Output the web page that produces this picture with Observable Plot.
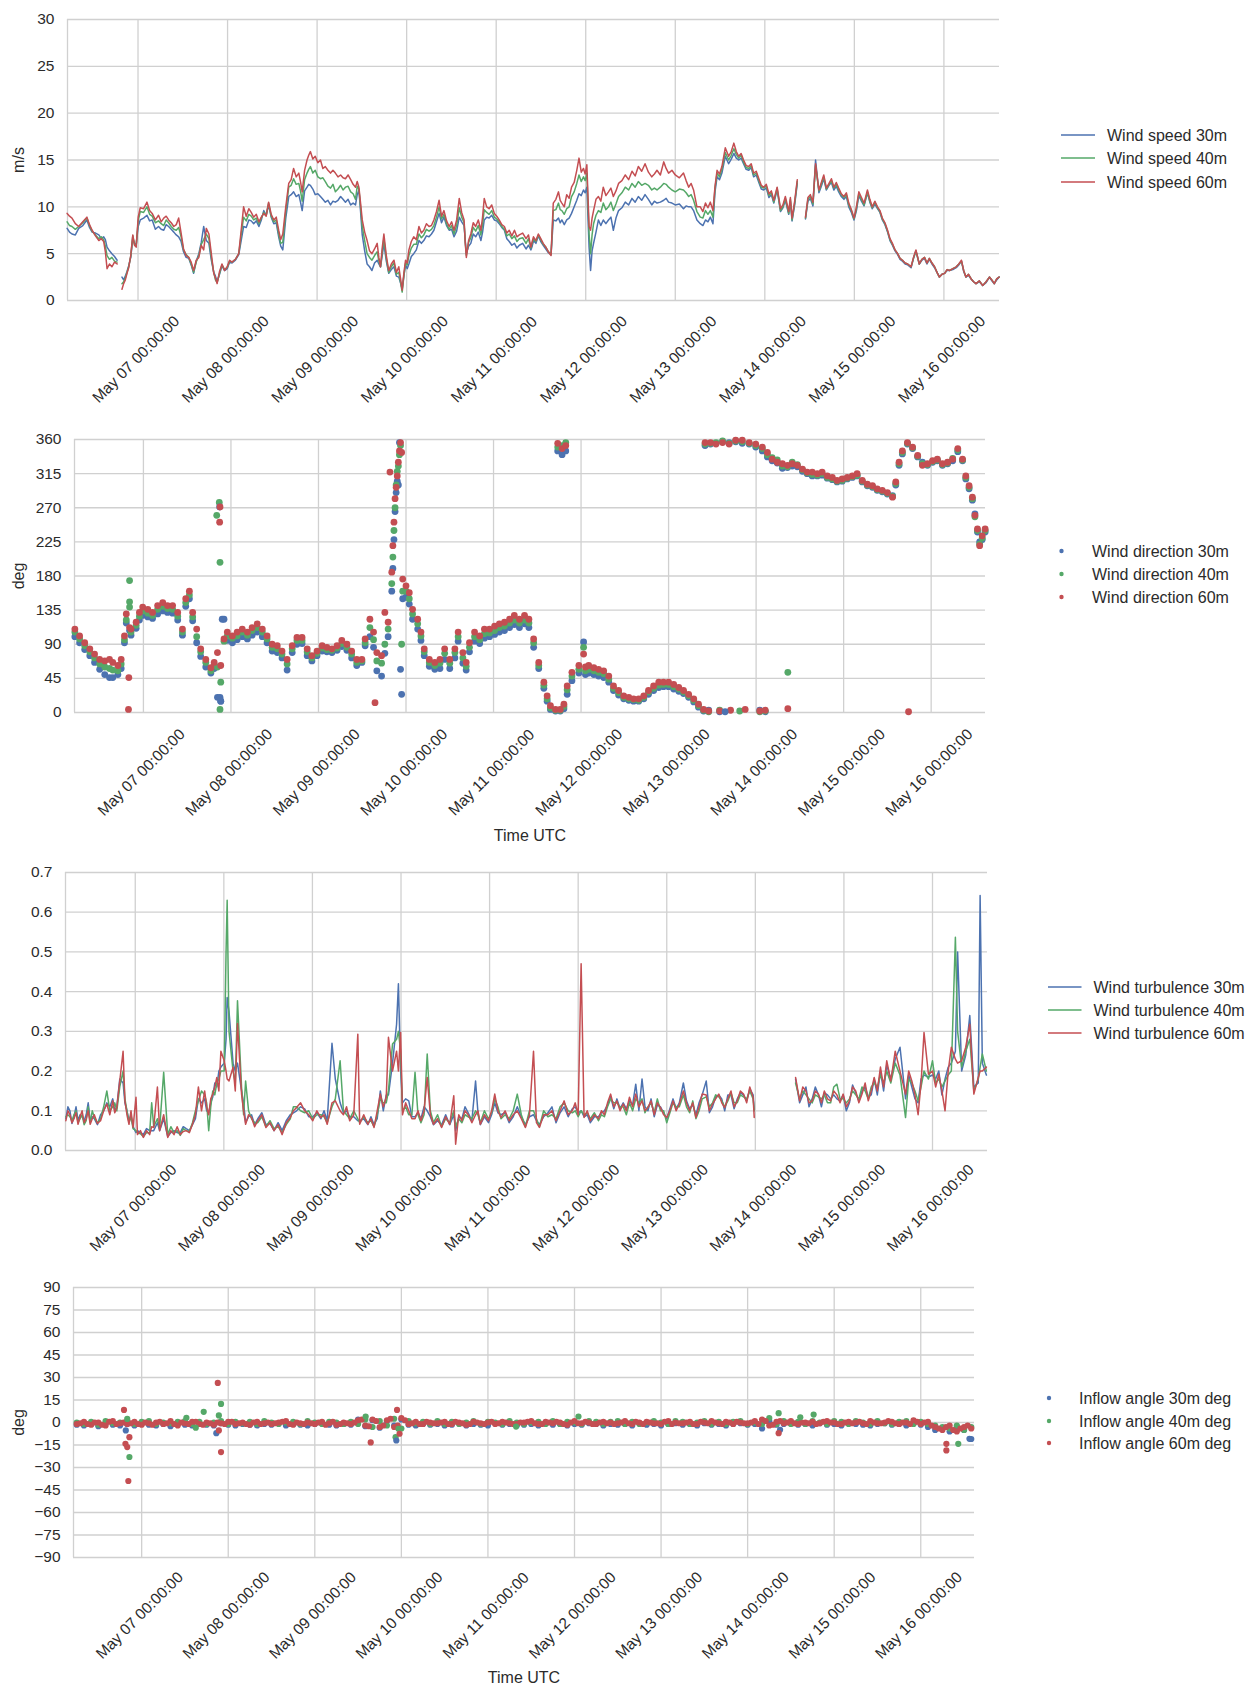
<!DOCTYPE html>
<html><head><meta charset="utf-8">
<script src="https://cdn.jsdelivr.net/npm/d3@7"></script>
<script src="https://cdn.jsdelivr.net/npm/@observablehq/plot@0.6"></script>
<style>
body{margin:0;background:#fff;font-family:"Liberation Sans",Arial,sans-serif;}
#root{position:relative;width:1252px;height:1685px;overflow:hidden;background:#fff}
#root svg.panel{position:absolute;left:0}
</style></head><body><div id="root"></div>
<script>
// ---------- shared axis data ----------
const tickHours = [24,48,72,96,120,144,168,192,216,240];
const tickLabels = ["May 07 00:00:00","May 08 00:00:00","May 09 00:00:00","May 10 00:00:00","May 11 00:00:00","May 12 00:00:00","May 13 00:00:00","May 14 00:00:00","May 15 00:00:00","May 16 00:00:00"];
const seriesNames = ["30m","40m","60m"];
const seriesColors = ["#4C72B0","#55A868","#C44E52"];
const speedLegend = ["Wind speed 30m","Wind speed 40m","Wind speed 60m"];
const dirLegend = ["Wind direction 30m","Wind direction 40m","Wind direction 60m"];
const turbLegend = ["Wind turbulence 30m","Wind turbulence 40m","Wind turbulence 60m"];
const inflowLegend = ["Inflow angle 30m deg","Inflow angle 40m deg","Inflow angle 60m deg"];

// ---------- panel 1: wind speed (m/s), hours since May 06 00:00 UTC ----------
const speedHours = [5,5.65,6.3,7.2,8.1,9.2,10.3,11,11.7,12.6,
13.5,14.15,14.8,15.25,15.7,16.35,17,17.7,18.4,19.2,
19.7,20.15,20.6,21.05,21.5,22.05,22.6,23.05,23.5,24.05,
24.6,25.5,26.4,27.1,27.8,28.65,29.5,30.2,30.9,31.55,
32.2,32.9,33.6,34.25,34.9,35.55,36.2,36.9,37.6,38.25,
38.9,39.6,40.3,40.95,41.6,42.3,43,43.65,44.3,44.75,
45.2,45.85,46.5,47.2,47.9,48.55,49.2,50.1,51,51.65,
52.3,53,53.7,54.35,55,55.7,56.4,57.05,57.7,58.35,
59,59.7,60.4,61.05,61.7,62.25,62.8,63.6,64.4,65.05,
65.7,66.4,67.1,67.55,68,68.65,69.3,69.75,70.2,70.85,
71.5,72.2,72.9,73.55,74.2,74.9,75.6,76.25,76.9,77.6,
78.3,78.95,79.6,80.3,81,81.65,82.3,82.75,83.2,83.65,
84.1,84.75,85.4,86.05,86.7,87.4,88.1,88.55,89,89.45,
89.9,90.55,91.2,91.9,92.6,93.25,93.9,94.35,94.8,95.25,
95.7,96.15,96.6,97.25,97.9,98.6,99.3,99.95,100.6,101.3,
102,102.65,103.3,104,104.7,105.35,106,106.7,107.4,108.05,
108.7,109.4,110.1,110.75,111.4,111.7,112,112.6,113.2,113.85,
114.5,115.2,115.9,116.35,116.8,117.45,118.1,118.8,119.5,120.15,
120.8,121.5,122.2,122.85,123.5,124.2,124.9,125.55,126.2,127.1,
128,128.65,129.3,129.65,130,130.65,131.3,131.95,132.6,133.3,
134,134.7,135.3,136,136.7,137.15,137.6,138.25,138.9,139.55,
140.2,140.9,141.6,142.2,142.8,143.4,143.85,144.3,144.9,145.3,
145.7,146.1,146.75,147.4,148.05,148.7,149.4,150.1,150.75,151.4,
152.1,152.8,153.7,154.6,155.5,156.4,157.25,158.1,159,159.9,
160.8,161.7,162.4,163.1,164,164.9,165.55,166.2,167.1,168,
169.1,170.2,170.9,171.6,172.25,172.9,173.8,174.7,175.4,176.1,
176.75,177.4,178.1,178.65,179.2,179.85,180.5,181.4,182.3,183,
183.7,184.35,185,185.65,186.3,187,187.7,188.35,189,189.7,
190.4,191.05,191.7,192.4,193.1,193.75,194.4,195.3,196.2,196.85,
197.5,198.4,198.85,199.3,200,200.7,201.5,202.9,203.55,204.2,
204.9,205.6,206.5,207.15,207.8,208.5,209.2,209.85,210.5,211.15,
211.8,212.5,213.2,213.85,214.5,215.2,215.9,216.55,217.2,217.9,
218.6,219.5,220.15,220.8,221.5,222.2,222.85,223.5,224.2,224.9,
225.55,226.2,226.9,227.6,228.25,228.9,229.6,230.3,231.2,231.85,
232.5,233.4,234.1,234.8,235.45,236.1,236.8,237.5,238.15,238.8,
239.5,240.2,240.85,241.5,242.4,243.3,244,244.7,245.3,245.9,
246.6,247.3,247.95,248.6,249.5,250.4,251.3,252.2,252.85,253.5,
254.15,254.8];
const speed60 = [9.3,9.0,8.8,8.2,7.9,8.4,8.9,8.1,7.5,6.9,
6.4,6.6,6.3,5.2,3.4,3.9,3.6,4.1,3.9,null,
1.2,1.8,2.2,2.9,3.5,4.8,7.0,5.9,5.7,8.9,
9.9,9.8,10.5,9.6,9.3,8.6,9.1,8.4,8.8,9.0,
8.6,8.3,7.9,8.1,8.8,7.2,5.5,4.8,4.6,4.1,
3.2,4.3,4.6,5.9,5.4,7.7,7.1,5.0,2.9,2.4,
1.8,3.1,3.9,3.2,3.6,4.3,4.1,4.4,5.0,7.5,
10.0,9.0,9.8,9.4,8.9,9.2,8.4,8.9,9.3,9.0,
10.5,9.2,8.6,8.9,7.5,6.5,7.1,10.0,12.5,12.9,
14.1,13.2,13.6,12.7,11.6,13.9,15.0,15.5,15.9,15.1,
15.4,14.7,15.0,14.1,14.3,13.9,13.6,13.9,13.6,13.2,
13.4,13.1,13.0,13.4,12.9,12.4,12.1,12.7,12.1,10.4,
8.6,7.3,6.4,5.3,5.0,5.5,6.1,4.6,3.6,5.6,
7.1,4.8,3.2,3.9,4.3,3.0,3.6,2.4,1.1,2.9,
4.3,4.0,5.4,6.3,6.8,6.5,7.9,7.2,7.5,8.2,
7.9,8.0,8.6,9.5,10.7,9.0,9.6,8.5,7.9,8.4,
7.5,8.6,10.9,9.4,8.6,6.2,4.6,6.4,7.1,8.3,
7.9,8.6,7.5,8.9,10.9,10.0,9.8,10.2,9.3,9.0,
8.6,8.1,7.9,7.2,7.5,6.9,7.5,6.8,7.0,7.2,
6.6,7.0,5.7,6.3,6.8,6.4,7.1,6.6,6.1,5.7,
5.2,4.8,10.4,10.8,11.6,10.7,10.4,10.0,11.3,10.9,
12.1,12.6,13.9,15.2,13.7,14.1,13.5,14.5,7.9,7.5,
8.8,9.6,10.8,11.1,10.6,12.1,11.2,11.6,12.0,11.1,
11.7,12.5,12.8,13.4,12.9,13.8,13.3,14.3,13.8,14.6,
13.7,13.2,13.5,13.9,13.4,14.8,14.1,13.6,13.9,13.4,
13.1,13.6,12.8,12.1,12.5,11.8,10.0,10.0,9.5,10.4,
9.9,10.5,9.6,12.2,13.9,13.5,14.3,16.3,15.4,15.9,
16.8,15.9,15.4,15.7,15.0,14.4,14.3,14.6,13.6,13.8,
13.0,12.3,12.1,12.4,11.4,11.7,10.7,12.1,9.8,10.2,
11.1,9.5,11.0,8.8,10.6,12.9,null,8.9,11.0,11.3,
10.5,14.6,11.8,12.6,13.4,12.0,12.5,13.0,12.1,12.6,
12.0,11.4,11.1,11.5,10.4,9.7,8.8,10.0,11.6,11.0,
10.4,11.8,10.8,10.0,10.6,10.0,9.6,8.8,8.3,7.5,
6.6,6.1,5.4,5.0,4.5,4.3,4.0,3.9,3.6,4.6,
5.4,3.9,4.4,4.6,4.0,4.5,4.0,3.6,3.0,2.5,
2.8,2.9,3.3,3.2,3.4,3.6,3.9,4.3,3.2,2.5,
2.8,2.3,2.0,1.8,2.1,1.6,2.0,2.5,2.2,1.8,
2.3,2.5];
const speed40 = [8.4,8.0,7.9,7.6,7.9,8.3,8.8,8.0,7.4,7.0,
6.6,6.8,6.5,5.8,4.8,4.4,4.6,4.2,4.1,null,
1.8,2.0,2.4,3.0,3.6,4.7,6.9,6.0,5.8,8.5,
9.5,9.4,10.0,9.2,9.0,8.3,8.5,8.2,8.0,8.6,
8.3,7.9,7.6,7.5,7.8,6.8,5.4,4.9,4.6,3.9,
3.0,4.1,4.8,6.0,6.5,7.1,6.6,4.6,3.0,2.2,
1.9,2.9,3.8,3.3,3.5,4.2,4.1,4.4,5.0,7.0,
8.9,8.5,9.2,9.0,8.6,8.8,8.2,8.8,9.4,9.1,
10.4,9.0,8.4,8.6,7.1,6.1,6.2,9.5,12.1,12.3,
13.0,12.4,12.5,11.7,10.6,12.9,13.6,14.0,14.3,13.6,
13.9,13.2,13.0,13.1,12.7,12.2,12.0,12.4,11.6,11.9,
12.3,11.8,12.1,12.2,11.6,11.4,10.8,12.2,11.9,10.0,
7.9,6.4,5.0,4.6,4.3,4.8,5.2,4.2,3.6,5.2,
6.6,4.5,3.0,3.6,4.0,2.8,3.0,2.0,0.9,2.6,
4.0,3.8,4.8,5.6,6.0,6.0,7.1,6.7,7.0,7.6,
7.4,7.6,8.0,8.9,10.0,8.7,9.2,8.2,7.6,8.0,
7.1,8.0,9.9,8.9,8.3,6.3,4.8,6.2,6.7,7.8,
7.4,8.0,7.0,8.1,9.7,9.4,9.2,9.6,8.9,8.7,
8.4,7.9,7.6,6.9,7.1,6.6,6.9,6.3,6.6,6.7,
6.1,6.6,5.6,6.1,6.6,6.3,7.0,6.5,6.0,5.7,
5.2,4.9,9.6,9.7,10.4,9.7,9.6,9.2,9.8,10.0,
11.1,11.6,12.5,13.4,12.7,13.2,12.8,13.6,7.1,5.0,
7.0,8.2,9.1,9.6,9.4,10.4,9.7,10.0,10.5,9.6,
10.3,11.1,11.5,12.1,11.8,12.5,12.1,12.7,12.3,12.5,
12.3,11.8,12.0,11.8,12.1,12.5,12.4,12.1,11.8,11.6,
11.9,11.8,11.5,11.1,11.3,10.7,9.5,8.9,8.8,9.6,
9.2,9.6,8.9,12.0,13.6,13.2,14.0,15.8,15.0,15.5,
16.2,15.6,15.2,15.5,14.8,14.2,14.1,14.4,13.4,13.6,
12.8,12.1,12.0,12.2,11.2,11.5,10.5,12.0,9.6,10.0,
10.9,9.3,10.8,8.6,10.4,12.7,null,8.8,10.8,11.1,
10.3,14.4,11.7,12.4,13.2,11.9,12.4,12.8,12.0,12.4,
11.8,11.3,11.0,11.3,10.2,9.6,8.7,9.8,11.4,10.8,
10.2,11.6,10.6,9.9,10.5,9.9,9.5,8.7,8.2,7.4,
6.5,6.0,5.4,5.0,4.5,4.3,4.0,3.9,3.6,4.5,
5.3,3.9,4.4,4.6,4.0,4.5,4.0,3.6,3.0,2.5,
2.8,2.9,3.3,3.2,3.4,3.6,3.9,4.2,3.2,2.5,
2.8,2.3,2.0,1.8,2.1,1.6,2.0,2.5,2.2,1.8,
2.3,2.5];
const speed30 = [7.7,7.3,7.1,7.0,7.7,8.0,8.6,7.8,7.3,7.2,
7.0,6.6,6.8,6.5,5.7,5.3,5.0,4.7,4.3,null,
2.5,2.2,2.6,3.1,3.7,4.6,6.6,6.1,5.9,7.9,
8.6,8.8,9.1,8.5,8.6,7.6,7.9,7.6,7.5,8.1,
7.9,7.6,7.3,7.0,6.8,6.3,5.2,4.6,4.5,3.8,
2.9,4.2,5.0,6.2,7.9,6.4,6.1,4.3,3.0,2.6,
2.0,2.8,3.7,3.2,3.4,4.1,4.0,4.3,4.9,6.4,
7.9,7.8,8.6,8.5,8.2,8.5,7.9,8.6,9.6,9.1,
10.2,8.9,8.2,8.3,6.8,5.8,5.4,8.8,11.1,11.3,
11.6,11.1,11.3,10.5,9.6,11.7,12.1,12.4,12.3,11.9,
11.3,11.4,11.1,10.8,10.5,10.7,10.2,10.6,10.5,10.7,
11.1,10.8,10.5,10.8,10.2,10.4,10.2,11.3,11.8,9.5,
7.0,5.3,3.9,3.6,3.2,4.0,4.3,3.9,3.6,4.8,
6.1,4.2,2.9,3.3,3.6,2.6,2.5,1.9,1.2,2.6,
3.8,3.4,3.9,4.7,5.0,5.4,6.4,6.1,6.4,6.9,
6.8,7.1,7.5,8.4,9.3,8.3,8.9,8.0,7.5,7.6,
6.8,7.4,8.9,8.4,8.0,6.4,5.0,5.8,6.1,7.1,
6.8,7.3,6.4,7.3,8.6,8.9,8.8,9.1,8.6,8.5,
8.2,7.8,7.5,6.6,6.3,5.9,6.1,5.6,5.9,6.1,
5.5,5.9,5.4,5.8,6.4,6.1,6.9,6.3,5.9,5.5,
5.1,4.9,8.6,8.5,8.8,8.3,8.6,8.1,8.6,8.8,
9.3,10.0,10.7,11.4,11.2,11.8,11.5,12.1,5.7,3.2,
5.3,6.1,7.3,8.6,8.0,8.6,8.2,8.6,8.9,7.5,
8.8,9.6,9.9,10.5,10.2,10.9,10.5,11.1,10.7,11.3,
10.8,10.2,10.6,10.4,10.5,10.7,10.9,10.5,10.4,10.2,
10.3,9.8,10.1,10.0,10.0,9.6,8.6,8.2,8.0,8.6,
8.4,8.9,8.2,11.6,13.2,12.9,13.6,15.4,14.6,15.1,
15.7,15.2,15.0,15.2,14.6,14.0,13.9,14.2,13.2,13.4,
12.6,11.9,11.8,12.0,11.0,11.3,10.4,11.8,9.5,9.9,
10.7,9.2,10.6,8.5,10.2,12.5,null,8.7,10.6,10.9,
10.1,15.0,11.5,12.2,13.0,11.8,12.3,12.6,11.8,12.2,
11.6,11.1,10.8,11.1,10.0,9.4,8.6,9.6,11.2,10.6,
10.1,11.5,10.5,9.8,10.3,9.8,9.4,8.6,8.1,7.3,
6.4,5.9,5.3,4.9,4.4,4.2,3.9,3.8,3.5,4.5,
5.3,3.9,4.3,4.5,3.9,4.4,3.9,3.5,3.0,2.5,
2.8,2.9,3.2,3.2,3.3,3.5,3.8,4.2,3.1,2.5,
2.7,2.3,2.0,1.8,2.0,1.6,1.9,2.5,2.1,1.8,
2.2,2.5];

// ---------- panel 2: wind direction (deg) ----------
const dirHours = [5.2,6.5,7.9,9.3,10.6,12.0,13.4,14.7,15.6,17.0,
17.9,18.8,19.3,20.2,20.6,22.0,22.9,23.8,25.2,26.5,
27.9,29.3,30.6,32.0,33.4,34.7,35.6,36.6,37.5,38.6,
39.7,41.1,42.5,43.4,44.3,45.2,46.1,47.0,48.4,49.7,
51.1,52.5,53.8,55.2,56.6,57.9,59.3,60.7,62.0,63.4,
64.8,66.1,67.5,68.9,70.2,71.6,73.0,74.3,75.7,77.1,
78.4,79.8,81.1,82.5,83.9,84.8,86.1,87.1,88.0,89.3,
90.2,91.1,92.1,92.4,92.7,93.0,93.3,93.6,93.9,94.2,
94.5,94.8,95.1,96.0,96.9,97.8,99.2,100.1,101.0,102.4,
103.9,105.3,106.6,108.0,109.4,110.3,111.6,112.5,113.4,114.8,
116.2,117.5,118.9,120.3,121.6,123.0,124.4,125.7,127.1,128.5,
129.7,131.0,132.4,133.8,134.7,135.6,137.0,137.6,138.3,138.8,
139.3,139.8,140.2,141.5,143.4,144.7,145.2,146.1,147.5,148.8,
150.2,151.6,152.9,154.3,155.7,157.1,158.4,159.8,161.2,162.5,
163.9,165.3,166.6,168.0,169.4,170.8,172.1,173.5,174.9,176.2,
177.6,178.0,179.0,179.5,181.0,182.0,182.8,184.6,186.4,188.2,
190.1,191.9,193.0,193.7,194.5,195.1,196.4,197.8,199.2,200.6,
201.9,203.3,204.7,206.0,207.4,208.8,210.1,211.5,212.9,214.2,
215.6,217.0,218.4,219.7,221.1,222.5,223.9,225.2,226.6,228.0,
229.4,230.3,231.2,232.1,233.5,234.9,236.3,237.6,239.0,240.4,
241.7,243.1,244.5,245.9,247.3,248.6,249.5,250.4,251.3,252.0,
252.7,253.3,254.0,254.8];
const dir60 = [110,101,92,84,77,70,68,70,66,62,
70,101,130,112,110,119,132,139,136,132,
141,145,141,141,132,110,150,160,132,110,
84,70,59,66,79,62,97,106,101,106,
110,106,112,117,110,101,90,88,81,70,
88,99,99,84,75,81,88,86,84,88,
95,90,81,70,70,97,123,106,79,75,
132,119,185,220,251,282,297,312,330,345,
356,343,176,167,158,136,123,106,84,70,
66,70,84,70,84,106,79,66,92,106,
101,110,110,114,117,119,123,128,123,128,
123,97,66,40,22,9,4,355,4,348,
11,352,35,53,62,77,60,62,59,57,
55,48,35,29,22,20,18,18,22,29,
35,40,40,40,37,33,29,24,18,11,
4,356,2,356,354,2,356,354,359,359,
356,354,2,350,3,343,334,330,328,326,
328,326,321,317,317,315,317,312,310,306,
308,310,312,315,306,301,299,295,293,290,
284,304,330,345,356,350,339,326,328,332,
334,328,330,334,348,334,312,299,284,260,
242,220,233,242];
const dir40 = [106,97,88,80,72,64,60,58,56,55,
64,96,122,146,106,115,127,134,131,128,
136,140,137,136,127,106,145,155,126,100,
80,66,55,62,60,40,94,101,98,101,
106,102,108,112,106,97,86,84,77,64,
84,95,95,80,72,78,85,83,82,85,
91,86,77,66,68,92,112,96,68,65,
90,110,170,205,240,270,300,318,325,340,
352,90,160,160,150,130,117,101,80,66,
62,65,78,65,79,100,72,61,86,100,
96,104,105,108,112,114,118,122,118,122,
118,92,62,36,18,6,3,350,3,352,
8,356,30,48,57,86,55,57,55,53,
51,44,32,26,20,18,17,16,20,27,
32,36,37,37,34,31,27,22,16,9,
3,354,1,355,356,3,358,355,358,357,
355,352,1,348,2,340,336,333,325,324,
330,327,320,316,314,313,315,310,308,305,
306,309,311,313,305,300,298,294,292,289,
285,302,328,343,355,349,338,328,327,331,
333,327,329,335,346,333,310,297,282,258,
240,222,230,240];
const dir30 = [100,92,83,75,66,57,50,46,46,50,
58,92,118,108,102,111,122,128,126,124,
130,134,132,131,122,102,140,150,121,92,
74,60,52,58,20,15,123,95,92,96,
100,97,102,106,100,92,81,79,72,56,
79,90,91,75,68,75,81,80,79,82,
87,82,72,62,66,88,100,86,55,48,
78,100,160,190,228,265,290,305,300,356,
57,24,150,152,143,123,110,95,75,61,
57,58,70,58,72,94,65,56,80,94,
91,98,100,103,106,108,112,116,112,117,
112,86,58,32,15,4,2,345,2,340,
5,345,24,42,52,93,50,52,50,48,
46,40,29,23,18,16,15,15,18,24,
29,33,34,34,31,28,25,20,14,7,
2,352,3,354,355,1,357,356,357,355,
354,350,3,345,1,337,332,329,322,323,
325,324,318,315,312,312,313,309,307,304,
305,308,310,312,304,299,297,293,291,288,
286,300,326,341,354,348,337,330,326,330,
332,326,328,332,344,332,308,295,280,262,
238,225,228,238];
const dirOutHours = [20.2,20.2,20.0,19.9,44.8,44.9,45.0,44.9,44.1,45.0,45.0,45.2,45.0,45.6,87.5,91.6,200.7,200.7,233.8,185.0,187.5,189.0,183.5];
const dirOutValues = [174,139,46,4,277,271,271,251,260,198,20,15,4,123,13,317,53,5,1,3,2,4,1];
const dirOutSeries = ["40m","40m","60m","60m","40m","30m","60m","60m","40m","40m","30m","30m","40m","30m","60m","60m","40m","60m","60m","60m","40m","60m","30m"];

// ---------- panel 3: turbulence ----------
const turbHours = [5.2,5.75,6.3,6.85,7.4,7.95,8.5,9.05,9.6,10.15,
10.7,11.25,11.8,12.35,12.9,13.75,14.6,15.45,16.3,17.1,
17.9,18.45,19.0,19.8,20.7,21.2,21.75,22.3,22.85,23.4,
24.2,24.6,25.4,26.2,27.05,27.9,28.45,29.0,30.0,30.6,
31.7,32.8,33.65,34.5,35.35,36.2,37.0,37.8,38.65,39.5,
40.3,41.1,41.95,42.8,43.35,43.9,44.45,45.0,45.55,46.1,
46.65,47.2,48.1,48.6,48.9,49.4,50.5,51.1,51.7,52.8,
53.35,53.9,54.7,55.5,56.35,57.2,58.3,59.4,60.5,61.6,
62.7,63.8,64.9,66.0,66.85,67.7,68.8,69.9,71.0,72.1,
73.2,74.3,75.15,76.0,77.3,78.2,79.5,80.4,81.25,82.1,
83.2,84.3,84.8,85.9,87.0,87.85,88.7,89.55,90.4,91.2,
92.0,92.6,93.7,94.8,95.3,95.9,96.4,97.25,98.1,98.95,
99.8,100.6,101.4,102.25,103.1,103.95,104.8,105.9,107.0,108.1,
109.2,110.3,110.8,111.65,112.5,113.35,114.2,115.2,116.2,116.85,
117.5,118.6,119.7,120.55,121.4,122.25,123.1,124.2,125.3,126.4,
127.5,128.6,129.7,130.8,131.9,132.7,133.5,134.65,135.8,136.9,
138.0,139.1,140.2,141.3,142.4,143.2,144.0,144.8,145.6,146.45,
147.3,148.4,149.5,150.3,151.1,151.95,152.8,153.65,154.5,155.35,
156.2,157.05,157.9,158.75,159.6,160.45,161.3,162.1,162.9,163.75,
164.6,165.45,166.3,167.15,168.0,168.85,169.7,170.55,171.4,172.5,
173.35,174.2,175.05,175.9,176.75,177.6,178.7,179.55,180.4,181.25,
182.1,182.9,183.7,184.55,185.4,186.25,187.1,187.95,188.8,189.65,
190.5,191.4,191.7,192.5,202.9,204.0,204.85,205.7,206.55,207.4,
208.25,209.1,209.9,210.7,211.55,212.4,213.25,214.1,214.95,215.8,
216.65,217.5,218.35,219.2,220.05,220.9,221.75,222.6,223.4,224.2,
225.05,225.9,226.75,227.6,228.7,229.9,231.2,232.7,233.55,234.4,
235.25,236.1,236.9,237.7,238.9,240.0,240.85,241.7,242.55,243.4,
244.25,245.1,246.2,246.8,247.9,249.0,250.1,251.2,252.4,252.9,
253.5,254.6];
const turb60 = [.075,.1,.09,.07,.08,.095,.066,.085,.1,.07,
.08,.1,.066,.08,.09,.068,.075,.1,.117,.09,
.125,.095,.108,.175,.25,.125,.09,.066,.1,.058,
.134,.04,.05,.033,.05,.04,.06,.058,.16,.05,
.09,.033,.05,.04,.06,.04,.048,.05,.045,.066,
.09,.16,.1,.15,.11,.09,.13,.142,.16,.184,
.15,.25,.226,.2,.18,.175,.21,.15,.32,.142,
.1,.066,.09,.083,.06,.075,.09,.058,.07,.05,
.065,.04,.07,.083,.1,.108,.12,.1,.09,.075,
.1,.083,.09,.066,.12,.125,.1,.09,.11,.075,
.09,.293,.066,.09,.066,.08,.058,.1,.142,.11,
.134,.285,.2,.25,.2,.297,.09,.12,.1,.08,
.08,.1,.075,.1,.184,.09,.066,.08,.058,.085,
.066,.138,.016,.09,.075,.1,.09,.07,.09,.1,
.066,.09,.075,.1,.142,.1,.083,.1,.075,.09,
.1,.08,.058,.09,.25,.07,.058,.09,.09,.1,
.075,.1,.125,.09,.1,.12,.09,.47,.083,.1,
.075,.09,.08,.1,.09,.12,.142,.11,.125,.1,
.117,.1,.134,.11,.142,.11,.125,.1,.108,.125,
.09,.12,.108,.09,.083,.1,.125,.1,.117,.15,
.12,.1,.12,.083,.11,.142,.14,.1,.117,.13,
.142,.12,.108,.13,.15,.11,.125,.15,.142,.12,
.16,.134,.083,null,.184,.125,.16,.15,.12,.125,
.15,.142,.12,.15,.13,.125,.15,.14,.12,.142,
.11,.125,.16,.15,.12,.142,.17,.125,.15,.184,
.15,.21,.16,.226,.175,.25,.2,.142,.2,.175,
.14,.09,.17,.297,.192,.2,.16,.192,.15,.1,
.2,.26,.23,.22,.226,.26,.318,.142,.184,.2,
.2,.21];
const turb40 = [.085,.09,.085,.075,.09,.1,.07,.08,.09,.065,
.075,.11,.07,.1,.083,.07,.08,.11,.15,.1,
.11,.12,.1,.16,.2,.13,.1,.07,.085,.055,
.05,.045,.042,.035,.045,.045,.12,.06,.08,.055,
.197,.04,.06,.045,.05,.038,.055,.05,.048,.07,
.1,.125,.15,.14,.12,.05,.11,.15,.14,.17,
.18,.2,.2,.5,.63,.3,.2,.17,.377,.16,
.09,.175,.1,.08,.07,.07,.085,.06,.075,.055,
.06,.045,.065,.08,.11,.11,.1,.095,.1,.08,
.09,.09,.085,.07,.11,.13,.226,.1,.09,.08,
.1,.08,.07,.085,.07,.075,.06,.09,.13,.12,
.12,.15,.268,.28,.3,.25,.1,.11,.09,.09,
.197,.09,.07,.09,.243,.1,.07,.09,.06,.08,
.07,.1,.06,.08,.07,.09,.085,.08,.1,.09,
.07,.1,.08,.095,.13,.11,.08,.09,.08,.1,
.142,.09,.06,.1,.1,.08,.06,.1,.085,.09,
.08,.11,.12,.1,.095,.1,.085,.1,.09,.095,
.08,.095,.075,.09,.085,.11,.13,.12,.12,.11,
.11,.09,.12,.1,.13,.12,.13,.095,.11,.12,
.095,.13,.1,.1,.07,.095,.12,.11,.11,.14,
.11,.095,.125,.08,.1,.13,.135,.11,.12,.14,
.135,.125,.11,.125,.145,.12,.12,.14,.135,.13,
.15,.13,.1,null,.17,.13,.15,.14,.13,.12,
.14,.135,.13,.14,.12,.12,.16,.167,.13,.13,
.12,.13,.15,.14,.13,.16,.15,.13,.16,.17,
.16,.19,.17,.2,.17,.22,.19,.083,.18,.17,
.15,.125,.16,.2,.18,.226,.17,.18,.16,.175,
.19,.2,.537,.3,.21,.25,.28,.15,.18,.21,
.243,.2];
const turb30 = [.08,.11,.1,.068,.085,.11,.075,.09,.085,.075,
.09,.12,.075,.085,.08,.065,.09,.1,.12,.11,
.13,.1,.11,.18,.17,.12,.1,.075,.09,.06,
.045,.05,.045,.04,.055,.05,.05,.05,.07,.05,
.08,.035,.045,.05,.045,.045,.06,.055,.05,.065,
.08,.13,.12,.13,.1,.095,.12,.135,.17,.16,
.2,.21,.22,.28,.385,.35,.22,.2,.22,.15,
.12,.07,.085,.09,.065,.08,.095,.065,.068,.05,
.07,.05,.075,.09,.095,.1,.11,.105,.085,.085,
.095,.08,.1,.075,.27,.18,.12,.095,.1,.085,
.085,.075,.075,.08,.065,.085,.065,.08,.15,.1,
.14,.14,.22,.318,.42,.2,.12,.13,.125,.085,
.085,.095,.08,.11,.1,.085,.065,.075,.065,.09,
.065,.09,.05,.085,.08,.11,.095,.075,.175,.095,
.065,.085,.07,.09,.12,.095,.09,.095,.07,.085,
.11,.085,.065,.085,.09,.075,.065,.085,.095,.11,
.07,.095,.11,.085,.105,.11,.095,.1,.085,.09,
.07,.085,.085,.095,.1,.115,.135,.105,.13,.105,
.12,.105,.125,.115,.167,.1,.18,.11,.1,.13,
.085,.115,.11,.095,.08,.105,.13,.105,.12,.17,
.125,.105,.115,.09,.12,.14,.175,.095,.11,.135,
.14,.13,.1,.14,.14,.105,.13,.145,.14,.125,
.155,.14,.1,null,.18,.12,.14,.16,.11,.13,
.16,.14,.11,.145,.14,.13,.14,.13,.125,.14,
.1,.12,.165,.145,.125,.15,.16,.135,.14,.18,
.14,.2,.15,.215,.18,.23,.26,.13,.19,.16,
.13,.12,.18,.19,.185,.19,.18,.2,.14,.18,
.21,.22,.25,.5,.2,.24,.34,.16,.17,.642,
.22,.19];

// ---------- panel 4: inflow angle (deg) ----------
const inflowHours = [6,8,10,12,14,16,18,20,22,24,26,28,30,32,34,36,38,40,42,44,46,48,50,52,54,
56,58,60,62,64,66,68,70,72,74,76,78,80,82,84,86,88,90,92,94,96,98,100,102,104,
106,108,110,112,114,116,118,120,122,124,126,128,130,132,134,136,138,140,142,144,146,148,150,152,154,
156,158,160,162,164,166,168,170,172,174,176,178,180,182,184,186,188,190,192,194,196,198,200,202,204,
206,208,210,212,214,216,218,220,222,224,226,228,230,232,234,236,238,240,242,244,246,248,250,252,254];
const inflow60 = [-1,0.5,-1.5,0,-2,1,-0.5,-1,0.5,-1.5,-0.5,0,-1,1,-2,-0.5,0.5,-1,0,-1.5,-0.5,0.5,-1,0,-1.5,
0.5,-0.5,-1,0,1,-1.5,-0.5,0,-1,0.5,-0.5,-1.5,0,-1,1.5,-2,2,-3,1.5,-3,3,-1,0.5,-1,0,
-0.5,0.5,-1,0,-1.5,0.5,-0.5,0,-1,0.5,-0.5,-1,0,1,-1,0.5,-0.5,0,-1.5,1,-0.5,0,-1,0.5,0,
-0.5,1,-1,0,0.5,-0.5,-1,1,0,-0.5,0.5,-1,0,1,-0.5,0.5,-1,0,-0.5,1,2,-2,0.5,-0.5,1,
-1,0,0.5,-0.5,1,0,-1,0.5,0,-0.5,1,-0.5,0,0.5,-1,0,1.5,-1,0.5,-3,-5,-2,-6,-3,-4];
const inflow40 = [0,-1,0.5,-1.5,1,-0.5,0,1,-1,0.5,1,-1,0,-0.5,0.5,1,-1,0.5,-1,0,1,-1,0.5,-0.5,0.5,
-1,1,0,-1,0,0.5,-1,1,0,-1,0.5,0,-1,0.5,-1,2,-3,1,-2,2.5,-4,1,-0.5,0.5,-1,
1,-1,0.5,-1,0,1,-1,0.5,0,-1,1,0,-1,0,0.5,-1,1,-1,0.5,0,-1,1,0.5,-1,0.5,
1,-1,0.5,-1,0,1,0,-1,1,0.5,-1,0,1,-1,0.5,-1,0.5,1,-1,0,-1,3,-1,1,-1,
0.5,-1,1,0,-1,1,0.5,-1,1,0,-1,1,-0.5,-1,0.5,1,-1,0.5,-1,-2,-3,-4,-2,-5,-3];
const inflow30 = [-1.5,-2,-1,-2.5,-0.5,-1.5,-2,-1,-2,-0.5,-1.5,-2,-1,-2.5,-1,-1.5,-2,-1,-1.5,-2,-0.5,-1.5,-2,-1,-1.5,
-2,-1,-1.5,-0.5,-2,-1,-1.5,-2,-1,-0.5,-1.5,-2,-1,-1.5,2,-2.5,1.5,-3.5,1,-2,2,-1.5,-2,-1,-1.5,
-1,-2,-1.5,-0.5,-2,-1,-1.5,-2,-0.5,-1.5,-1,-2,-1.5,-1,-2,-0.5,-1.5,-1,-2,-1,-1.5,-0.5,-1,-2,-1,
-1.5,-1,-2,-0.5,-1.5,-1,-2,-1,-0.5,-1.5,-1,-2,-0.5,-1.5,-1,-2,-1,-0.5,-1.5,-1,-4,1,-1.5,-1,-0.5,
-1.5,-1,-2,-0.5,-1.5,-1,-2,-0.5,-1,-1.5,-2,-1,-0.5,-1.5,-1,-2,-0.5,-1.5,-3,-5,-4,-6,-3,-5,-11];
// extra 60m samples between the even hours (the 60m band is the dense top layer)
const inflow60OddHours = [7,9,11,13,15,17,19,21,23,25,27,29,31,33,35,37,39,41,43,45,47,49,51,53,55,
57,59,61,63,65,67,69,71,73,75,77,79,81,83,85,87,89,91,93,95,97,99,101,103,105,
107,109,111,113,115,117,119,121,123,125,127,129,131,133,135,137,139,141,143,145,147,149,151,153,155,
157,159,161,163,165,167,169,171,173,175,177,179,181,183,185,187,189,191,193,195,197,199,201,203,205,
207,209,211,213,215,217,219,221,223,225,227,229,231,233,235,237,239,241,243,245,247,249,251,253];
const inflow60Odd = [-0.5,-1,0,-1.5,0.5,-1,0,-0.5,-1,0,-1.5,0.5,-0.5,-1,0,-1,0.5,-1.5,-0.5,0,-1,0.5,-0.5,-1,0,
-1,0,-0.5,0.5,-1,0,-1,-0.5,0,-1.5,0.5,-1,-0.5,0,2,-2.5,1,-2,2.5,-2,1.5,-0.5,-1,0.5,-0.5,
0,-1,0.5,-0.5,-1,0,-1,0.5,-0.5,0,-1,0,0.5,-0.5,-1,0,0.5,-1,0,-0.5,0.5,-1,0,-0.5,-1,
0,-0.5,0.5,-1,0,-0.5,0.5,-1,-0.5,0,-1,0.5,-0.5,0,-1,0,0.5,-0.5,0,-1,1,-1.5,1,0,-0.5,
0,-0.5,-1,0.5,0,-1,0,-0.5,0.5,-1,0,-0.5,1,-0.5,0,-1,0.5,0,-2,-4,-3,-5,-4,-2];
const inflowOutHours = [19.1,19.5,20.0,20.6,20.6,20.3,19.6,20.0,36.4,39.0,41.2,45.1,46.0,46.0,44.7,45.4,45.4,87.5,86.1,94.8,94.4,94.6,95.2,95.5,127.8,145.1,200.6,201.0,200.6,206.6,210.3,247.1,247.1,250.4,253.5];
const inflowOutValues = [8.4,-14.2,-16.4,-9.8,-23,-39,-5.3,2.4,3.1,-3.5,7.1,26.4,12.4,-19.7,-7.1,-5.3,4.7,-13.3,4,8.4,-9.8,-12,-4.2,-7.5,-2.7,4,6.2,-4.9,-7.1,3.5,5.3,-18.6,-14.2,-14.2,-10.9];
const inflowOutSeries = ["60m","60m","60m","60m","40m","60m","30m","40m","40m","40m","40m","60m","40m","60m","30m","60m","40m","60m","40m","60m","40m","30m","40m","60m","40m","40m","40m","30m","60m","40m","40m","60m","60m","40m","30m"];

// ---------- helpers ----------
const T0 = Date.UTC(2016, 4, 6);
const toDate = h => new Date(T0 + h * 3600000);
const xDomain = [toDate(5.1), toDate(254.9)];
const tickDates = tickHours.map(toDate);
const GRID = "#d0d0d0";
const TEXT = "#2b2b2b";
const FONT = "'Liberation Sans', Arial, sans-serif";

function table(hours, arrays) {
  const out = [];
  arrays.forEach((arr, k) => arr.forEach((v, i) => {
    if (i < hours.length) out.push({date: toDate(hours[i]), value: v, series: seriesNames[k]});
  }));
  return out;
}
function single(hours, values, s) {
  return values.map((v, i) => ({date: toDate(hours[i]), value: v, series: s}));
}
function outliers(hours, values, series) {
  return hours.map((h, i) => ({date: toDate(h), value: values[i], series: series[i]}));
}
const minus = d => d < 0 ? "\u2212" + Math.abs(d) : String(d);

function panel(cfg) {
  const {top, height, ml, mr, mt, mb, yDomain, yTicks, yFormat, ylabel, xlabel, marks, labelDy, xlabelDy} = cfg;
  const all = [
    Plot.ruleY(yTicks, {y: d => d, stroke: GRID, strokeWidth: 1.3}),
    Plot.ruleX(tickDates, {x: d => d, stroke: GRID, strokeWidth: 1.3}),
    Plot.ruleX([xDomain[0]], {x: d => d, stroke: GRID, strokeWidth: 1.3}),
    ...marks,
    Plot.axisY(yTicks, {anchor: "left", tickSize: 0, tickPadding: 13, tickFormat: yFormat, label: null, fontSize: 15.5}),
    Plot.text(tickLabels, {x: (d, i) => tickDates[i], text: d => d, frameAnchor: "bottom", dy: labelDy, dx: -2, rotate: -45, textAnchor: "middle", lineAnchor: "middle", fontSize: 15.5})
  ];
  if (ylabel) all.push(Plot.text([ylabel], {frameAnchor: "left", dx: 18 - ml, rotate: -90, textAnchor: "middle", lineAnchor: "middle", fontSize: 16}));
  if (xlabel) all.push(Plot.text([xlabel], {frameAnchor: "bottom", dy: xlabelDy, textAnchor: "middle", lineAnchor: "middle", fontSize: 16}));
  const svg = Plot.plot({
    width: 1252, height, marginLeft: ml, marginRight: mr, marginTop: mt, marginBottom: mb,
    style: {fontFamily: FONT, fontSize: "15.5px", color: TEXT, background: "transparent", overflow: "visible"},
    x: {type: "utc", domain: xDomain, axis: null},
    y: {domain: yDomain},
    color: {domain: seriesNames, range: seriesColors},
    marks: all
  });
  svg.classList.add("panel");
  svg.style.top = top + "px";
  document.getElementById("root").appendChild(svg);
}

// Panel 1
panel({top: 0, height: 420, ml: 67, mr: 253, mt: 19, mb: 120,
  yDomain: [0, 30], yTicks: [0,5,10,15,20,25,30], yFormat: minus, ylabel: "m/s", labelDy: 59,
  marks: [Plot.line(table(speedHours, [speed30, speed40, speed60]), {x: "date", y: "value", z: "series", stroke: "series", strokeWidth: 1.5})]
});
// Panel 2
panel({top: 420, height: 430, ml: 74, mr: 267, mt: 19, mb: 138,
  yDomain: [0, 360], yTicks: [0,45,90,135,180,225,270,315,360], yFormat: minus, ylabel: "deg", xlabel: "Time UTC", labelDy: 60, xlabelDy: 123,
  marks: [Plot.dot(table(dirHours, [dir30, dir40, dir60]).concat(outliers(dirOutHours, dirOutValues, dirOutSeries)), {x: "date", y: "value", fill: "series", r: 3.4})]
});
// Panel 3
panel({top: 850, height: 420, ml: 65, mr: 265, mt: 22, mb: 120,
  yDomain: [0, 0.7], yTicks: [0,0.1,0.2,0.3,0.4,0.5,0.6,0.7], yFormat: d3.format(".1f"), labelDy: 57.5,
  marks: [Plot.line(table(turbHours, [turb30, turb40, turb60]), {x: "date", y: "value", z: "series", stroke: "series", strokeWidth: 1.5})]
});
// Panel 4
panel({top: 1270, height: 415, ml: 73, mr: 278, mt: 17, mb: 128,
  yDomain: [-90, 90], yTicks: [-90,-75,-60,-45,-30,-15,0,15,30,45,60,75,90], yFormat: minus, ylabel: "deg", xlabel: "Time UTC", labelDy: 58, xlabelDy: 120,
  marks: [Plot.dot(table(inflowHours, [inflow30, inflow40]).concat(single(inflowHours, inflow60, "60m"), single(inflow60OddHours, inflow60Odd, "60m"), outliers(inflowOutHours, inflowOutValues, inflowOutSeries)), {x: "date", y: "value", fill: "series", r: 3.1})]
});

// ---------- legends ----------
const leg = d3.select("#root").append("svg")
  .attr("width", 1252).attr("height", 1685)
  .style("position", "absolute").style("left", "0px").style("top", "0px")
  .style("font-family", FONT).style("font-size", "16px");
function lineLegend(labels, x1, x2, tx, ys) {
  labels.forEach((t, i) => {
    leg.append("line").attr("x1", x1).attr("x2", x2).attr("y1", ys[i]).attr("y2", ys[i]).attr("stroke", seriesColors[i]).attr("stroke-width", 1.5);
    leg.append("text").attr("x", tx).attr("y", ys[i]).attr("dy", "0.35em").attr("fill", TEXT).text(t);
  });
}
function dotLegend(labels, cx, tx, ys) {
  labels.forEach((t, i) => {
    leg.append("circle").attr("cx", cx).attr("cy", ys[i]).attr("r", 2.2).attr("fill", seriesColors[i]);
    leg.append("text").attr("x", tx).attr("y", ys[i]).attr("dy", "0.35em").attr("fill", TEXT).text(t);
  });
}
lineLegend(speedLegend, 1061, 1095, 1107, [135, 158, 182]);
dotLegend(dirLegend, 1061.5, 1092, [551, 574, 597]);
lineLegend(turbLegend, 1048, 1081.5, 1093.5, [987, 1010, 1033]);
dotLegend(inflowLegend, 1049, 1079, [1398, 1421, 1443]);
</script>
</body></html>
